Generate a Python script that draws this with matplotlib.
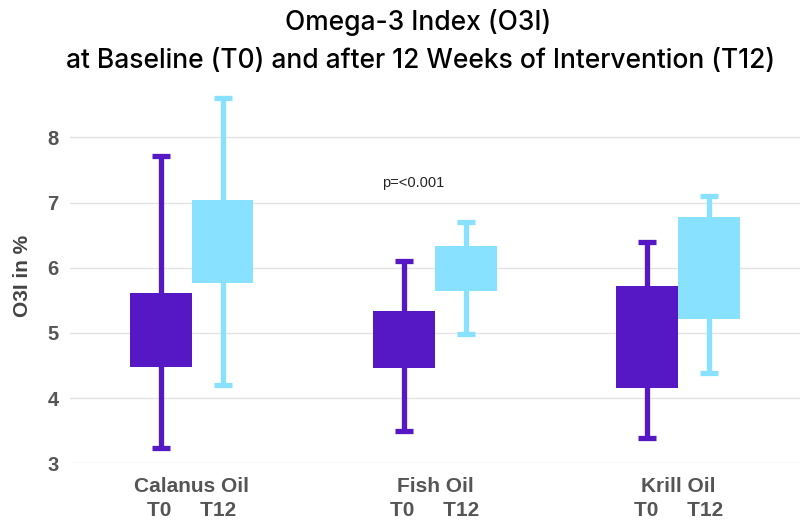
import matplotlib.pyplot as plt
import numpy as np

groups = ["Calanus Oil", "Fish Oil", "Krill Oil"]
times = ["T0", "T12"]
# per group: [T0, T12]
wlo = [[3.24, 4.20], [3.50, 4.99], [3.39, 4.39]]
q1 = [[4.47, 5.76], [4.46, 5.65], [4.16, 5.21]]
q3 = [[5.61, 7.04], [5.33, 6.33], [5.72, 6.78]]
whi = [[7.71, 8.60], [6.10, 6.70], [6.40, 7.10]]
colors = ["#5518C4", "#88E1FF"]
yticks = [3, 4, 5, 6, 7, 8]
ptext = "p=<0.001"

fig = plt.figure(figsize=(8.08, 5.21), dpi=100)
ax = fig.add_axes([0.0866, 0.1107, 0.9034, 0.7196])

w = 0.254
cap = 0.074
for g in range(len(groups)):
    for t in range(2):
        xc = g + (t - 0.5) * w
        ax.plot([xc, xc], [wlo[g][t], whi[g][t]], color=colors[t], lw=3.8,
                solid_capstyle="butt", zorder=2)
        for v in (wlo[g][t], whi[g][t]):
            ax.plot([xc - cap / 2, xc + cap / 2], [v, v], color=colors[t],
                    lw=3.8, solid_capstyle="butt", zorder=2)
        ax.bar(xc, q3[g][t] - q1[g][t], bottom=q1[g][t], width=w,
               color=colors[t], zorder=3)

ax.text(0.91, 7.30, ptext, ha="center", va="center", fontsize=10.5,
        color="#222222", family="Liberation Sans")

ax.set_xlim(-0.5, 2.5)
ax.set_ylim(3, 8.75)
ax.set_yticks(yticks)
ax.set_yticklabels([str(v) for v in yticks], fontsize=14.5, fontweight="bold",
                   color="#555555", family="Liberation Sans")
ax.set_xticks(range(len(groups)))
ax.set_xticklabels([g + "\n" + times[0] + "     " + times[1] for g in groups],
                   fontsize=15, fontweight="bold", color="#555555",
                   family="Liberation Sans", linespacing=1.3)
ax.tick_params(axis="both", length=0)
ax.tick_params(axis="y", pad=8)
ax.tick_params(axis="x", pad=10)
ax.set_ylabel("O3I in %", fontsize=15, fontweight="bold", color="#444444",
              family="Liberation Sans", labelpad=11)
ax.grid(axis="y", color="#e3e3e3", lw=1)
ax.set_axisbelow(True)
for s in ax.spines.values():
    s.set_visible(False)

fig.text(0.517, 1 - 23 / 521, "Omega-3 Index (O3I)", ha="center", va="center",
         fontsize=19, fontweight="medium", family="Inter")
fig.text(0.521, 1 - 61 / 521,
         "at Baseline (T0) and after 12 Weeks of Intervention (T12)",
         ha="center", va="center", fontsize=19, fontweight="medium", family="Inter")

fig.savefig("out.png", dpi=100)
